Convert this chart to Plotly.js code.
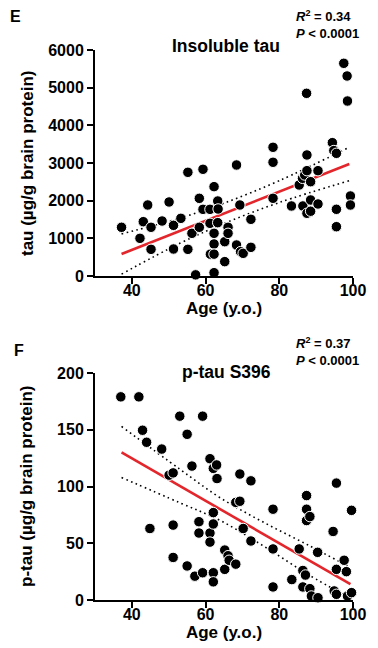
<!DOCTYPE html>
<html>
<head>
<meta charset="utf-8">
<script src="https://cdn.plot.ly/plotly-3.0.1.min.js"></script>
<style>html,body{margin:0;padding:0;background:#fff;}#chart{width:378px;height:648px;}</style>
</head>
<body>
<div id="chart"></div>
<script>
// Panel E: insoluble tau vs age
const ageTau = [37.2,42.2,43.1,44.3,45.2,45.2,48.2,50.1,51.3,51.3,53.3,55.2,55.2,56.3,57.3,58.3,58.3,59.3,59.3,61.2,61.2,61.3,62.3,62.3,62.3,62.3,62.3,63.3,63.3,63.4,65.2,65.2,66.1,66.1,68.4,68.4,69.3,69.5,70.2,72.3,72.3,78.3,78.3,78.3,83.3,85.4,86.3,86.4,86.9,87.4,87.5,87.5,87.5,88.5,88.5,88.5,90.5,90.5,94.4,94.8,95.5,95.5,95.5,97.5,98.4,98.5,99.3,99.3];
const tau = [1293,1000,1442,1885,1293,708,1460,1965,1345,717,1531,2753,708,1133,30,2062,1293,2833,1770,1770,1399,580,2372,1133,850,580,88,1991,1416,1779,911,381,1293,1133,2947,823,1885,646,602,1505,761,3417,3019,2063,1859,2416,2594,1859,2682,4850,3213,2796,1665,2504,2018,1720,2796,1912,3540,3330,3257,1771,1309,5647,5310,4646,2124,1885];
const fitTauX = [37.2, 99];
const fitTauY = [584, 2973];
const bandTauX = [37.2, 53, 65, 80, 99];
const bandTauUpper = [1119, 1533, 1933, 2531, 3416];
const bandTauLower = [49, 867, 1393, 1951, 2530];

// Panel F: p-tau S396 vs age
const agePtau = [37.0,41.9,42.9,44.0,44.9,48.1,50.1,51.2,51.2,51.2,53.0,55.0,55.0,56.3,57.1,58.2,58.2,59.2,59.2,61.2,61.2,61.2,62.1,62.1,62.1,62.1,62.1,63.0,63.1,65.2,65.2,66.1,66.4,68.2,68.2,69.3,69.3,70.2,72.3,72.3,78.3,78.3,78.3,83.4,85.4,86.4,87.1,86.4,87.4,87.4,87.4,88.3,88.3,88.7,90.4,90.5,94.6,94.9,95.5,95.5,95.5,97.6,98.2,98.5,99.6,99.6];
const ptau = [179,179,149.6,139,63,133,110,112,66,37.5,162,146,30,118,21,69,59,162,24,124.5,59,51,116,77,67,24,16,119,107,44,27,39,35,86,31.6,111,87,63,105,52,80,45,11.5,18,45,26,22,11.5,92,80,70,73.5,10,3.5,42,2,60.4,8,103,27,5,35,25,3.5,79,6.5];
const fitPtauX = [37.2, 99.3];
const fitPtauY = [130, 14];
const bandPtauX = [37.2, 53, 64, 76, 88, 98.5];
const bandPtauUpper = [152.9, 115.3, 90, 68, 48.1, 30];
const bandPtauLower = [107.9, 85.7, 70, 47, 22.1, 3];

const FONT = 'Liberation Sans, Arial, Helvetica, sans-serif';
const RED = '#e3262b';
const DOTS = '1.6px,3.4px';

function lineTrace(x, y, xa, ya, color, dash, width) {
  return {x: x, y: y, xaxis: xa, yaxis: ya, mode: 'lines', type: 'scatter',
    line: {color: color, dash: dash, width: width, shape: 'spline'},
    hoverinfo: 'skip', showlegend: false, cliponaxis: false};
}
function pointTrace(x, y, xa, ya) {
  return {x: x, y: y, xaxis: xa, yaxis: ya, mode: 'markers', type: 'scatter',
    marker: {color: '#000', size: 10.5, line: {color: '#fff', width: 1}},
    showlegend: false, cliponaxis: false};
}

const data = [
  lineTrace(bandTauX, bandTauUpper, 'x', 'y', '#000', DOTS, 1.6),
  lineTrace(bandTauX, bandTauLower, 'x', 'y', '#000', DOTS, 1.6),
  lineTrace(fitTauX, fitTauY, 'x', 'y', RED, 'solid', 2.6),
  pointTrace(ageTau, tau, 'x', 'y'),
  lineTrace(bandPtauX, bandPtauUpper, 'x2', 'y2', '#000', DOTS, 1.6),
  lineTrace(bandPtauX, bandPtauLower, 'x2', 'y2', '#000', DOTS, 1.6),
  lineTrace(fitPtauX, fitPtauY, 'x2', 'y2', RED, 'solid', 2.6),
  pointTrace(agePtau, ptau, 'x2', 'y2')
];

const tickFont = {family: FONT, size: 16, color: '#000', weight: 'bold'};
const titleFont = {family: FONT, size: 17, color: '#000', weight: 'bold'};

function xAxis(anchor) {
  return {anchor: anchor, domain: [0, 1], range: [30, 100], tickvals: [40, 60, 80, 100],
    showline: true, linecolor: '#000', linewidth: 2, ticks: 'outside', ticklen: 6, tickwidth: 2, tickcolor: '#000',
    ticklabelstandoff: -7,
    showgrid: false, zeroline: false, tickfont: tickFont,
    title: {text: 'Age (y.o.)', font: titleFont, standoff: 0}};
}
function yAxis(anchor, domain, range, dtick) {
  return {anchor: anchor, domain: domain, range: range, dtick: dtick,
    showline: true, linecolor: '#000', linewidth: 2, ticks: 'outside', ticklen: 6, tickwidth: 2, tickcolor: '#000',
    showgrid: false, zeroline: false, tickfont: tickFont};
}

const statFont = {family: FONT, size: 13, color: '#000', weight: 'bold'};
const layout = {
  width: 378, height: 648,
  margin: {l: 95, r: 25, t: 50, b: 48},
  paper_bgcolor: '#fff', plot_bgcolor: '#fff',
  showlegend: false,
  xaxis: xAxis('y'),
  yaxis: yAxis('x', [0.5891, 1], [0, 6000], 1000),
  xaxis2: xAxis('y2'),
  yaxis2: yAxis('x2', [0, 0.4127], [0, 200], 50),
  annotations: [
    {text: 'tau (µg/g brain protein)', textangle: -90, xref: 'paper', yref: 'paper', x: -0.2636, y: 0.7945, xanchor: 'center', yanchor: 'middle', showarrow: false,
      font: titleFont},
    {text: 'p-tau (µg/g brain protein)', textangle: -90, xref: 'paper', yref: 'paper', x: -0.2636, y: 0.2073, xanchor: 'center', yanchor: 'middle', showarrow: false,
      font: titleFont},
    {text: 'E', xref: 'paper', yref: 'paper', x: -0.31, y: 1.06, xanchor: 'center', yanchor: 'middle', showarrow: false,
      font: {family: FONT, size: 16, color: '#000', weight: 'bold'}},
    {text: 'Insoluble tau', xref: 'paper', yref: 'paper', x: 0.508, y: 1.007, xanchor: 'center', yanchor: 'middle', showarrow: false,
      font: {family: FONT, size: 17.5, color: '#000', weight: 'bold'}},
    {text: '<i>R</i><sup>2</sup> = 0.34<br><i>P</i> &lt; 0.0001', xref: 'paper', yref: 'paper', x: 0.772, y: 1.047, xanchor: 'left', yanchor: 'middle', align: 'left', showarrow: false,
      font: statFont},
    {text: 'F', xref: 'paper', yref: 'paper', x: -0.295, y: 0.454, xanchor: 'center', yanchor: 'middle', showarrow: false,
      font: {family: FONT, size: 16, color: '#000', weight: 'bold'}},
    {text: 'p-tau S396', xref: 'paper', yref: 'paper', x: 0.511, y: 0.415, xanchor: 'center', yanchor: 'middle', showarrow: false,
      font: {family: FONT, size: 17.5, color: '#000', weight: 'bold'}},
    {text: '<i>R</i><sup>2</sup> = 0.37<br><i>P</i> &lt; 0.0001', xref: 'paper', yref: 'paper', x: 0.772, y: 0.451, xanchor: 'left', yanchor: 'middle', align: 'left', showarrow: false,
      font: statFont}
  ]
};

Plotly.newPlot('chart', data, layout, {staticPlot: true, displayModeBar: false});
</script>
</body>
</html>
